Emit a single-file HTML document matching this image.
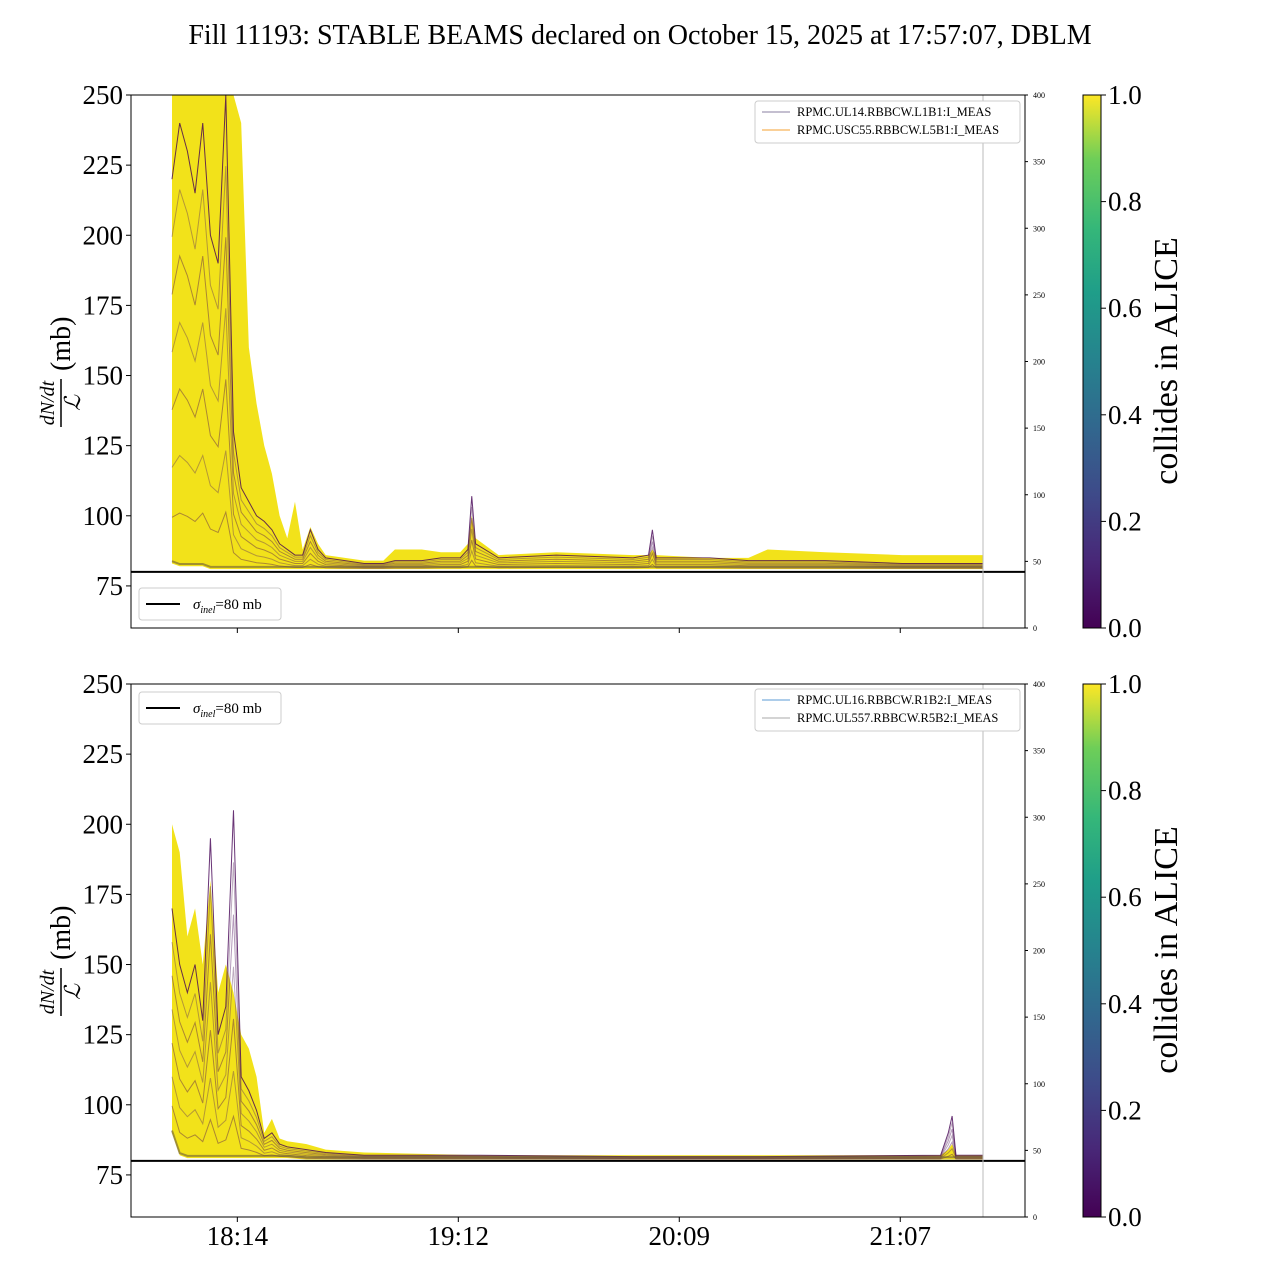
<!DOCTYPE html>
<html><head><meta charset="utf-8"><style>
body{margin:0;background:#fff}
svg text{font-family:"Liberation Serif",serif}
</style></head><body>
<svg id="c" width="1280" height="1280" xmlns="http://www.w3.org/2000/svg">
<defs>
<linearGradient id="vir" x1="0" y1="1" x2="0" y2="0">
<stop offset="0" stop-color="#440154"/><stop offset="0.13" stop-color="#482878"/><stop offset="0.25" stop-color="#3e4a89"/><stop offset="0.38" stop-color="#31688e"/><stop offset="0.5" stop-color="#26828e"/><stop offset="0.63" stop-color="#1f9e89"/><stop offset="0.75" stop-color="#35b779"/><stop offset="0.88" stop-color="#6ece58"/><stop offset="1" stop-color="#fde725"/>
</linearGradient>
<clipPath id="clipT"><rect x="131" y="95" width="894" height="533"/></clipPath>
<clipPath id="clipB"><rect x="131" y="684" width="894" height="533"/></clipPath>
</defs>
<text x="640" y="44" font-size="28" text-anchor="middle">Fill 11193: STABLE BEAMS declared on October 15, 2025 at 17:57:07, DBLM</text>
<g id="top"></g>
<g id="bot"></g>
</svg>
<script>
const NS="http://www.w3.org/2000/svg";
// time samples in minutes after 17:57
const timesTop=[0,2,4,6,8,10,12,14,16,18,20,22,24,26,28,30,32,34,36,38,40,45,50,55,58,65,70,75,77,78,79,85,100,120,124,125,126,140,150,155,170,190,211];
const topYellow=[250,250,250,250,250,250,250,250,250,240,160,140,125,115,100,92,105,88,96,90,86,85,84,84,88,88,87,87,90,100,92,86,87,86,86,88,86,85,85,88,87,86,86];
const topPurple=[220,240,230,215,240,200,190,250,130,110,105,100,98,95,90,88,86,86,95,88,85,84,83,83,84,84,85,85,88,107,90,85,86,85,86,95,85,85,84,84,84,83,83];
const topLower=[83,82,82,82,82,81,81,81,81,81,81,81,81,81,81,81,81,81,81,81,81,81,81,81,81,81,81,81,81,81,81,81,81,81,81,81,81,81,81,81,81,81,81];
const timesBot=[0,2,4,6,8,10,12,14,16,18,20,22,24,26,28,30,35,40,50,80,120,150,200,202,203,204,211];
const botYellow=[200,190,160,170,150,180,140,150,140,125,120,110,90,95,88,87,86,84,83,82,82,82,82,84,86,82,82];
const botPurple=[170,150,140,150,130,195,125,135,205,110,105,98,88,90,86,85,84,83,82,82,81.5,81.5,82,90,96,82,82];
const botLower=[90,82,81,81,81,81,81,81,81,81,81,81,81,81,81,81,80.5,80.5,80.5,80.5,80.5,80.5,80.5,80.5,80.5,80.5,80.5];
const yTicks=[75,100,125,150,175,200,225,250];
const rTicks=[0,50,100,150,200,250,300,350,400];
const xTickTimes=[17,74.5,132,189.5];
const xTickLabels=["18:14","19:12","20:09","21:07"];
const cbTicks=[0,0.2,0.4,0.6,0.8,1.0];
const sigma=80;

const X0=131,X1=1025;
const xs=t=>172+t*3.843;
function mk(tag,attrs,parent,name,text){const e=document.createElementNS(NS,tag);for(const k in attrs)e.setAttribute(k,attrs[k]);


if(text!==undefined)e.textContent=text;parent.appendChild(e);return e;}

function panel(g,top,times,yel,pur,low,clip,legendTop,leg1,leg2,c1,c2){
  const bot=top+533;
  const ys=v=>top+(250-v)*533/190;
  const rs=v=>bot-v*533/400;
  const cg=mk('g',{'clip-path':'url(#'+clip+')'},g,'data-area');
  let p=times.map((t,i)=>xs(t)+','+ys(yel[i])).join(' ')+' '+times.slice().reverse().map((t,i)=>xs(t)+','+ys(low[low.length-1-i])).join(' ');
  mk('polygon',{points:p,fill:'#f2e21a'},cg,'yellow-band');
  const fr=[1,0.85,0.7,0.55,0.4,0.25,0.12];
  fr.forEach((f,k)=>{
    const pts=times.map((t,i)=>xs(t)+','+ys(low[i]+(pur[i]-low[i])*f)).join(' ');
    mk('polyline',{points:pts,fill:'none',stroke:k%2?'#5a2a60':'#440154','stroke-width':1,'stroke-opacity':k==0?0.8:0.4},cg,'purple-trace');
  });
  const lp=times.map((t,i)=>xs(t)+','+ys(low[i]+0.8)).join(' ');
  mk('polyline',{points:lp,fill:'none',stroke:'#6b5a3a','stroke-width':2,'stroke-opacity':0.6},cg,'baseline-trace');
  mk('line',{x1:X0,x2:X1,y1:ys(sigma),y2:ys(sigma),stroke:'#000','stroke-width':2},g,'sigma-inel-line');
  mk('line',{x1:983,x2:983,y1:top,y2:bot,stroke:'#bbb','stroke-width':1},g,'end-marker-line');
  mk('rect',{x:X0,y:top,width:X1-X0,height:533,fill:'none',stroke:'#000','stroke-width':1},g,'axes-frame');
  yTicks.forEach(v=>{mk('line',{x1:X0-5,x2:X0,y1:ys(v),y2:ys(v),stroke:'#000'},g,'y-tick');
    mk('text',{x:X0-8,y:ys(v)+9,'font-size':27,'text-anchor':'end'},g,'y-tick-label',String(v));});
  rTicks.forEach(v=>{mk('line',{x1:X1,x2:X1+3,y1:rs(v),y2:rs(v),stroke:'#000'},g,'right-tick');
    mk('text',{x:X1+8,y:rs(v)+3,'font-size':8},g,'right-tick-label',String(v));});
  xTickTimes.forEach(t=>mk('line',{x1:xs(t),x2:xs(t),y1:bot,y2:bot+5,stroke:'#000'},g,'x-tick'));
  const yl=mk('g',{transform:'translate(62,'+(top+266)+') rotate(-90)'},g,'y-axis-title');
  mk('text',{x:-42,y:-8,'font-size':20,'font-style':'italic','text-anchor':'middle'},yl,'y-title-numerator','dN/dt');
  mk('line',{x1:-66,x2:-18,y1:-1,y2:-1,stroke:'#000','stroke-width':1.5},yl,'y-title-bar');
  mk('text',{x:-42,y:18,'font-size':22,'font-style':'italic','text-anchor':'middle'},yl,'y-title-denominator','ℒ');
  mk('text',{x:-10,y:8,'font-size':28},yl,'y-title-unit','(mb)');
  const ly=legendTop;
  mk('rect',{x:755,y:ly,width:265,height:42,fill:'#fff',stroke:'#ccc',rx:3},g,'series-legend');
  mk('line',{x1:762,x2:790,y1:ly+11,y2:ly+11,stroke:c1},g,'legend-line');
  mk('text',{x:797,y:ly+15,'font-size':12.5},g,'legend-entry',leg1);
  mk('line',{x1:762,x2:790,y1:ly+29,y2:ly+29,stroke:c2},g,'legend-line');
  mk('text',{x:797,y:ly+33,'font-size':12.5},g,'legend-entry',leg2);
  const sy=top===95?588:692;
  mk('rect',{x:139,y:sy,width:142,height:32,fill:'#fff',stroke:'#ccc',rx:3},g,'sigma-legend');
  mk('line',{x1:146,x2:180,y1:sy+16,y2:sy+16,stroke:'#000','stroke-width':2},g,'sigma-legend-line');
  const st=mk('text',{x:193,y:sy+21,'font-size':15},g,'sigma-legend-label');
  st.innerHTML='<tspan font-style="italic">σ</tspan><tspan font-size="10" font-style="italic" dy="4">inel</tspan><tspan dy="-4">=80 mb</tspan>';
  mk('rect',{x:1083,y:top,width:18,height:533,fill:'url(#vir)',stroke:'#000','stroke-width':1},g,'colorbar');
  cbTicks.forEach(v=>{const y=bot-v*533;mk('line',{x1:1101,x2:1106,y1:y,y2:y,stroke:'#000'},g,'colorbar-tick');
    mk('text',{x:1108,y:y+9,'font-size':27},g,'colorbar-tick-label',v.toFixed(1));});
  mk('text',{transform:'translate(1177,'+(top+266)+') rotate(-90)','font-size':34,'text-anchor':'middle'},g,'colorbar-title','collides in ALICE');
  return bot;
}
const gt=document.getElementById('top'),gb=document.getElementById('bot');
panel(gt,95,timesTop,topYellow,topPurple,topLower,'clipT',101,'RPMC.UL14.RBBCW.L1B1:I_MEAS','RPMC.USC55.RBBCW.L5B1:I_MEAS','#8a7fa0','#f5a030');
const bb=panel(gb,684,timesBot,botYellow,botPurple,botLower,'clipB',689,'RPMC.UL16.RBBCW.R1B2:I_MEAS','RPMC.UL557.RBBCW.R5B2:I_MEAS','#5b9bd5','#aaaaaa');
xTickTimes.forEach((t,i)=>mk('text',{x:xs(t),y:bb+28,'font-size':27,'text-anchor':'middle'},gb,'x-tick-label',xTickLabels[i]));
</script>
</body></html>
